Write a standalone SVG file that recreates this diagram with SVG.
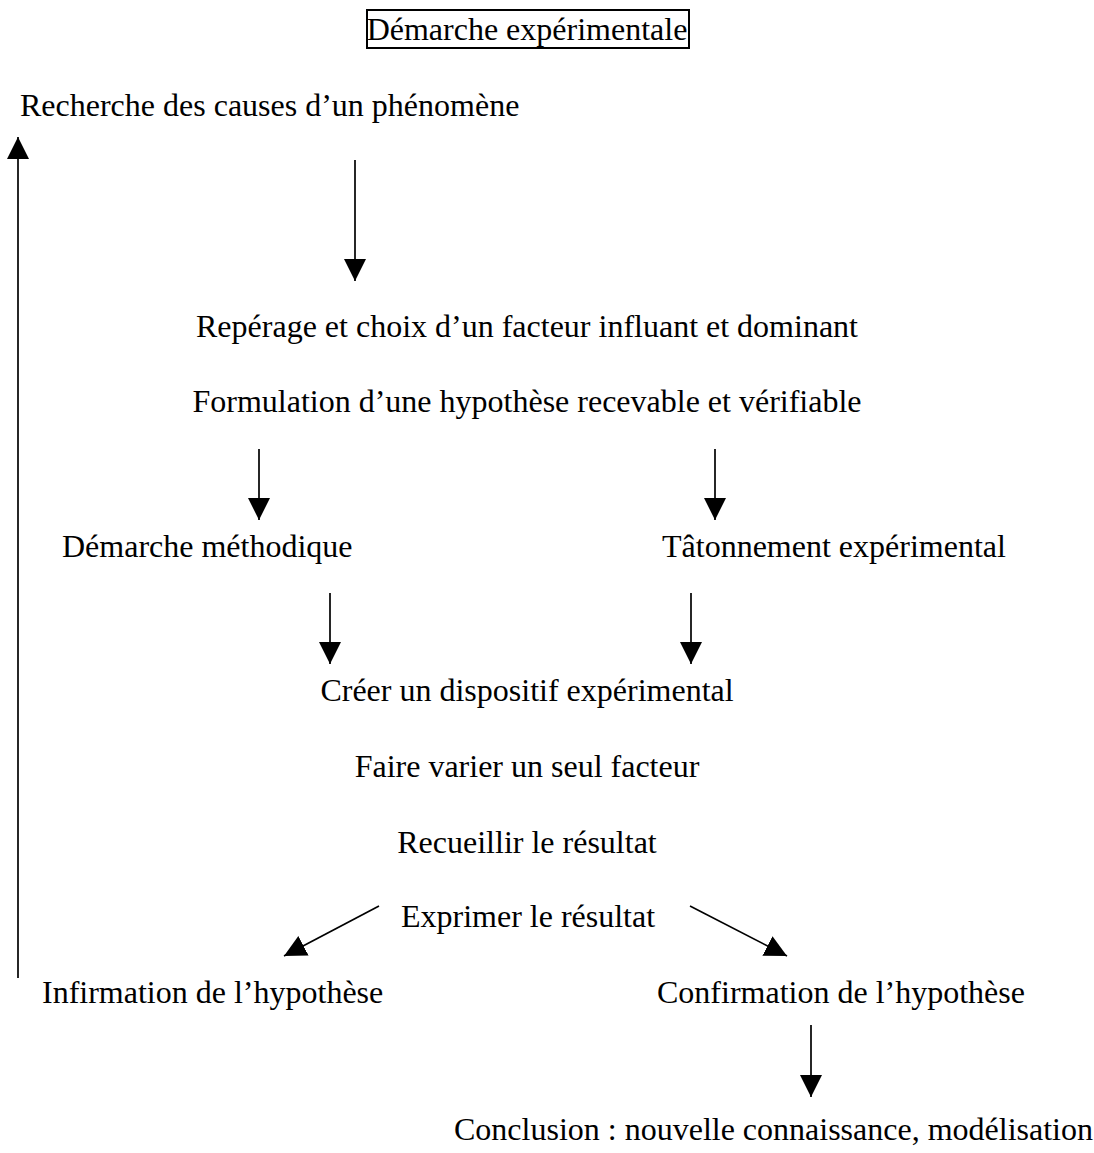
<svg xmlns="http://www.w3.org/2000/svg" width="1094" height="1153" viewBox="0 0 1094 1153">
  <style>
    text { font-family: "Liberation Serif", "Times New Roman", serif; font-size: 32px; fill: #000; }
    .c { text-anchor: middle; }
    .conn line { stroke: #000; stroke-width: 1.7; fill: none; marker-end: url(#arrow); }
    .box { fill: #fff; stroke: #000; stroke-width: 2; }
  </style>
  <defs>
    <marker id="arrow" markerUnits="userSpaceOnUse" markerWidth="22" markerHeight="22" refX="21" refY="10.5" orient="auto" viewBox="0 0 21 21">
      <path d="M0,0 L21,10.5 L0,21 Z" fill="#000"/>
    </marker>
  </defs>
  <rect width="1094" height="1153" fill="#fff"/>

  <g id="title">
    <rect class="box" x="367" y="10" width="322" height="38"/>
    <text class="c" x="527" y="40">Démarche expérimentale</text>
  </g>
  <g id="recherche"><text x="20" y="116">Recherche des causes d’un phénomène</text></g>
  <g id="reperage"><text class="c" x="527" y="337">Repérage et choix d’un facteur influant et dominant</text></g>
  <g id="formulation"><text class="c" x="527" y="412">Formulation d’une hypothèse recevable et vérifiable</text></g>
  <g id="methodique"><text x="62" y="557">Démarche méthodique</text></g>
  <g id="tatonnement"><text x="662" y="557">Tâtonnement expérimental</text></g>
  <g id="creer"><text class="c" x="527" y="701">Créer un dispositif expérimental</text></g>
  <g id="faire"><text class="c" x="527" y="777">Faire varier un seul facteur</text></g>
  <g id="recueillir"><text class="c" x="527" y="853">Recueillir le résultat</text></g>
  <g id="exprimer"><text class="c" x="528" y="927">Exprimer le résultat</text></g>
  <g id="infirmation"><text x="42" y="1003">Infirmation de l’hypothèse</text></g>
  <g id="confirmation"><text x="657" y="1003">Confirmation de l’hypothèse</text></g>
  <g id="conclusion"><text x="454" y="1140">Conclusion : nouvelle connaissance, modélisation</text></g>

  <g id="connectors" class="conn">
    <line x1="18" y1="978" x2="18" y2="137"/>
    <line x1="355" y1="160" x2="355" y2="281"/>
    <line x1="259" y1="449" x2="259" y2="520"/>
    <line x1="715" y1="449" x2="715" y2="520"/>
    <line x1="330" y1="593" x2="330" y2="664"/>
    <line x1="691" y1="593" x2="691" y2="664"/>
    <line x1="379" y1="906" x2="284" y2="956"/>
    <line x1="690" y1="906" x2="787" y2="956"/>
    <line x1="811" y1="1025" x2="811" y2="1097"/>
  </g>
</svg>
